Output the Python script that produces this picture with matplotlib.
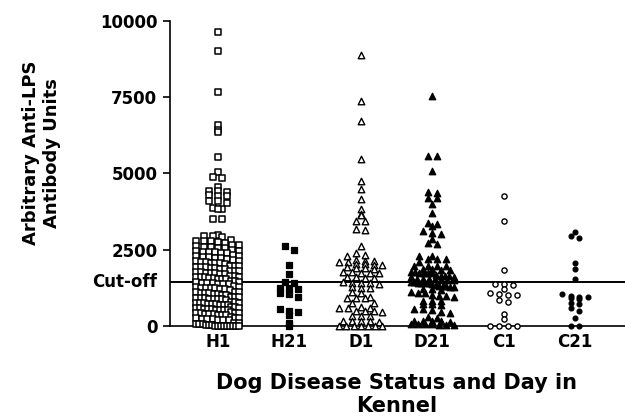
#!/usr/bin/env python3
"""
Column scatter of anti-LPS antibody units by dog disease status and day
"""

import matplotlib
matplotlib.use('Agg')
import matplotlib.pyplot as plt
import numpy as np

# group labels on the x axis
groups = ['H1', 'H21', 'D1', 'D21', 'C1', 'C21']

# values, one list per column
h1_values = [
    9620, 9020, 7660, 6580, 6430, 6340, 5520, 5030, 4890, 4850,
    4540, 4430, 4430, 4400, 4280, 4260, 4250, 4100, 4090, 4040,
    3880, 3830, 3820, 3500, 3490,
    2980, 2960, 2940, 2920,
    2830, 2800, 2790, 2770, 2750, 2720,
    2660, 2640, 2620, 2600, 2590, 2570, 2550,
    2490, 2470, 2460, 2440, 2420, 2410, 2390, 2380,
    2320, 2300, 2290, 2270, 2260, 2240, 2230, 2210,
    2150, 2140, 2120, 2110, 2100, 2080, 2070, 2050, 2040,
    1980, 1970, 1960, 1940, 1930, 1920, 1910, 1890, 1880, 1870,
    1810, 1800, 1790, 1770, 1760, 1750, 1740, 1720, 1710, 1700,
    1640, 1630, 1620, 1610, 1600, 1590, 1580, 1570, 1550, 1540, 1530,
    1470, 1460, 1450, 1440, 1420, 1410, 1400, 1390, 1380, 1360,
    1300, 1290, 1270, 1260, 1250, 1240, 1230, 1220, 1200, 1190,
    1130, 1120, 1100, 1090, 1080, 1070, 1060, 1050, 1030, 1020,
    960, 950, 940, 930, 920, 910, 900, 890, 880, 870, 860,
    790, 780, 770, 760, 750, 740, 730, 720, 710, 700, 690, 680,
    620, 610, 600, 590, 580, 570, 560, 550, 540, 530, 520, 510,
    450, 440, 430, 420, 410, 400, 390, 380, 370, 360, 350,
    280, 270, 260, 250, 240, 230, 220, 210, 200, 190,
    110, 90, 80, 60, 50, 40, 30, 20, 10,
    0, 0, 0, 0, 0, 0, 0, 0,
]
h21_values = [2620, 2490, 1990, 1690, 1440, 1400, 1260, 1260, 1200,
              1070, 1040, 960, 550, 490, 460, 360, 110, 0]
d1_values = [
    8860, 7380, 6720, 5470, 4760, 4480, 4150, 3830, 3670, 3650,
    3450, 3430, 3180, 3160,
    2620, 2400, 2310, 2290, 2160, 2140, 2130, 2110, 2100,
    2030, 2020, 2010, 1990, 1920, 1910, 1900, 1880,
    1780, 1760, 1750, 1740, 1720, 1600, 1590, 1570, 1560,
    1430, 1420, 1410, 1400, 1390, 1270, 1260, 1240, 1100, 1080,
    940, 930, 920, 910, 770, 750, 610, 600, 590, 580,
    500, 490, 480, 470, 340, 330, 320, 170, 160, 160, 150, 140,
    0, 0, 0, 0, 0, 0, 0,
]
d21_values = [
    7540, 5580, 5570, 5080, 4380, 4360, 4200, 4180, 3990, 3700,
    3370, 3350, 3280, 3120, 3040, 3020, 2840, 2710, 2690,
    2300, 2280, 2200, 2190, 2180, 2100,
    1980, 1970, 1960, 1950, 1870, 1860, 1850, 1840,
    1770, 1760, 1750, 1740, 1730, 1720,
    1660, 1650, 1640, 1630, 1620, 1610,
    1550, 1540, 1530, 1530, 1520, 1510, 1500,
    1440, 1430, 1420, 1420, 1410, 1400, 1390,
    1330, 1320, 1310, 1300, 1290, 1280,
    1210, 1200, 1190, 1100, 1090, 1080,
    1000, 990, 970, 960, 830, 820, 810, 720, 710, 700,
    560, 550, 540, 450, 430, 280, 260,
    170, 160, 160, 150, 140,
    70, 60, 60, 50, 40, 30, 20,
]
c1_values = [4260, 3440, 1830, 1390, 1370, 1350, 1200, 1070, 1040, 1030,
             1000, 840, 800, 400, 230, 0, 0, 0, 0]
c21_values = [3090, 2940, 2870, 2050, 1880, 1550, 1060, 970, 960, 950,
              930, 890, 740, 710, 580, 500, 270, 0, 0]

cutoff_value = 1450
y_ticks = [0, 2500, 5000, 7500, 10000]


def column_offsets(values, bin_size=170, step=0.125, half_width=0.3):
    """Spread points of one column sideways, row by row like a column scatter"""
    values = np.asarray(values, dtype=float)
    rows = np.round(values / bin_size).astype(int)
    offsets = np.zeros(len(values))
    for r in np.unique(rows):
        idx = np.where(rows == r)[0]
        n = len(idx)
        d = step if n < 2 else min(step, 2 * half_width / (n - 1))
        offsets[idx] = (np.arange(n) - (n - 1) / 2) * d
    return offsets


def create_plot():
    fig = plt.figure(figsize=(6.25, 4.17), dpi=100)
    ax = fig.add_axes([0.272, 0.2182, 0.728, 0.7322])

    # (values, marker, face colour, size, edge width)
    columns = [
        (h1_values, 's', 'white', 16, 1.1),
        (h21_values, 's', 'black', 14, 0.9),
        (d1_values, '^', 'white', 22, 1.0),
        (d21_values, '^', 'black', 22, 0.9),
        (c1_values, 'o', 'white', 14, 1.0),
        (c21_values, 'o', 'black', 12, 0.9),
    ]

    # cut-off line behind the points
    ax.axhline(cutoff_value, color='black', lw=1.4, zorder=1)

    for i, (vals, marker, face, size, lw) in enumerate(columns):
        x = i + column_offsets(vals)
        ax.scatter(x, vals, marker=marker, s=size, facecolor=face,
                   edgecolor='black', linewidths=lw, zorder=3, clip_on=False)

    ax.set_xlim(-0.67, 5.7)
    ax.set_ylim(0, 10000)
    ax.set_xticks(range(len(groups)))
    ax.set_xticklabels(groups)
    ax.set_yticks(y_ticks)
    ax.set_yticklabels([str(t) for t in y_ticks])

    for side in ['top', 'right']:
        ax.spines[side].set_visible(False)
    for side in ['left', 'bottom']:
        ax.spines[side].set_linewidth(1.2)

    ax.tick_params(axis='y', length=5, width=1.2, pad=4, labelsize=12)
    ax.tick_params(axis='x', length=0, pad=5, labelsize=12)
    for lab in ax.get_xticklabels() + ax.get_yticklabels():
        lab.set_fontweight('bold')

    ax.text(-0.028, cutoff_value, 'Cut-off', transform=ax.get_yaxis_transform(),
            ha='right', va='center', fontsize=12, fontweight='bold')

    fig.text(0.066, 0.633, 'Arbitrary Anti-LPS\nAntibody Units', rotation=90,
             ha='center', va='center', fontsize=13, fontweight='bold',
             multialignment='center')
    fig.text(0.635, 0.053, 'Dog Disease Status and Day in\nKennel',
             ha='center', va='center', fontsize=15, fontweight='bold',
             multialignment='center')
    return fig


def main():
    fig = create_plot()
    fig.savefig('out.png', dpi=100)


if __name__ == "__main__":
    main()
